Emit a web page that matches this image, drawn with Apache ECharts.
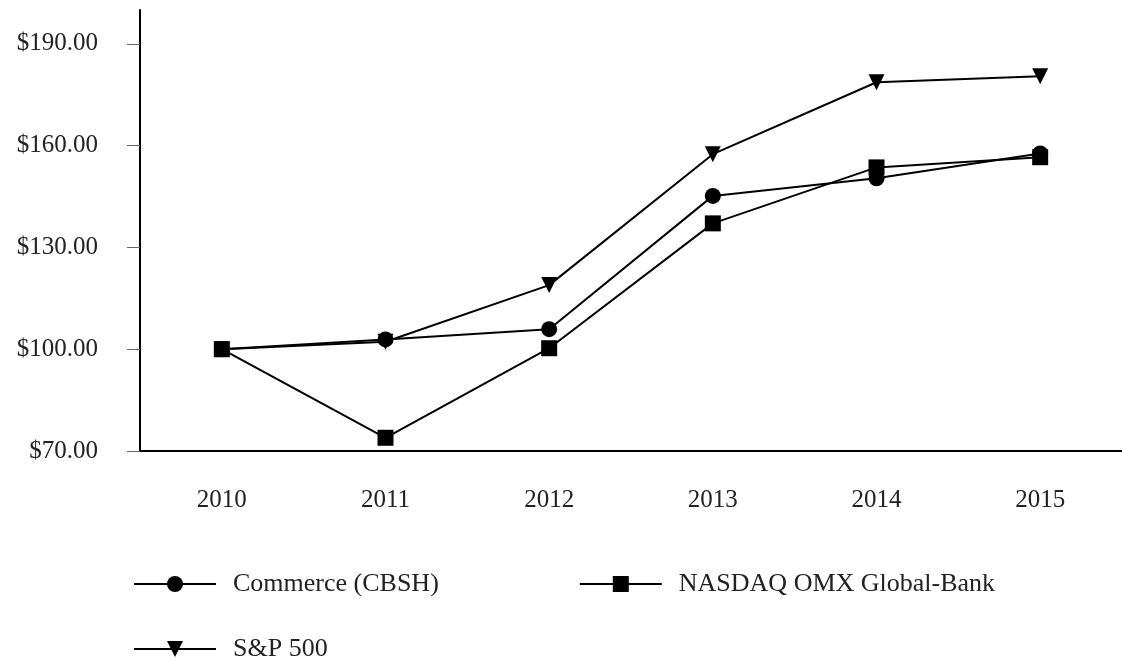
<!DOCTYPE html>
<html>
	<head>
		<meta charset="UTF-8">
		<title></title>
		<script src="https://cdn.jsdelivr.net/npm/echarts@6/dist/echarts.min.js"></script>
		<style type="text/css">
			body{
				margin: 0;
				background: #fff;
			}
			#chart{
				width: 1122px;
				height: 661px;
			}
		</style>
	</head>
	<body>
		<div id="chart"></div>
		<script>
		var years = ['2010', '2011', '2012', '2013', '2014', '2015'];
		var commerce = [100, 102.9, 105.9, 145.2, 150.4, 157.7];
		var nasdaq = [100, 73.9, 100.3, 137.1, 153.6, 156.6];
		var sp500 = [100, 102.2, 118.9, 157.5, 178.7, 180.5];
		var yTicks = [70, 100, 130, 160, 190];

		var font = 'Liberation Serif';
		var myChart = echarts.init(document.getElementById('chart'));

		function line(name, data, symbol, rotate){
			return {
				name: name,
				type: 'line',
				data: data,
				symbol: symbol,
				symbolSize: 16,
				symbolRotate: rotate || 0,
				showAllSymbol: true,
				lineStyle: {color: '#000', width: 2},
				itemStyle: {color: '#000'}
			};
		}

		var option = {
			backgroundColor: '#fff',
			animation: false,
			grid: {left: 140, top: 10, right: -6, bottom: 210},
			legend: [
				{
					data: ['Commerce (CBSH)', 'NASDAQ OMX Global-Bank'],
					left: 128, top: 566,
					itemWidth: 82, itemHeight: 20, itemGap: 140,
					textStyle: {fontFamily: font, fontSize: 26, color: '#222', padding: [0, 0, 0, 12]}
				},
				{
					data: ['S&P 500'],
					left: 128, top: 631,
					itemWidth: 82, itemHeight: 20,
					textStyle: {fontFamily: font, fontSize: 26, color: '#222', padding: [0, 0, 0, 12]}
				}
			],
			xAxis: {
				type: 'category',
				data: years,
				boundaryGap: true,
				axisLine: {lineStyle: {color: '#000', width: 2}},
				axisTick: {alignWithLabel: true, length: 12, lineStyle: {color: '#777'}},
				axisLabel: {fontFamily: font, fontSize: 25, color: '#222', margin: 37}
			},
			yAxis: {
				type: 'value',
				min: yTicks[0],
				max: 200,
				interval: 30,
				splitLine: {show: false},
				axisLine: {show: true, lineStyle: {color: '#000', width: 2}},
				axisTick: {show: true, length: 13, lineStyle: {color: '#666'}},
				axisLabel: {
					fontFamily: font, fontSize: 25, color: '#222', margin: 42,
					showMaxLabel: false,
					formatter: function(v){ return yTicks.indexOf(v) >= 0 ? '$' + v.toFixed(2) : ''; }
				}
			},
			series: [
				line('Commerce (CBSH)', commerce, 'circle'),
				line('NASDAQ OMX Global-Bank', nasdaq, 'rect'),
				line('S&P 500', sp500, 'triangle', 180)
			]
		};
		myChart.setOption(option);
		</script>
	</body>
</html>
